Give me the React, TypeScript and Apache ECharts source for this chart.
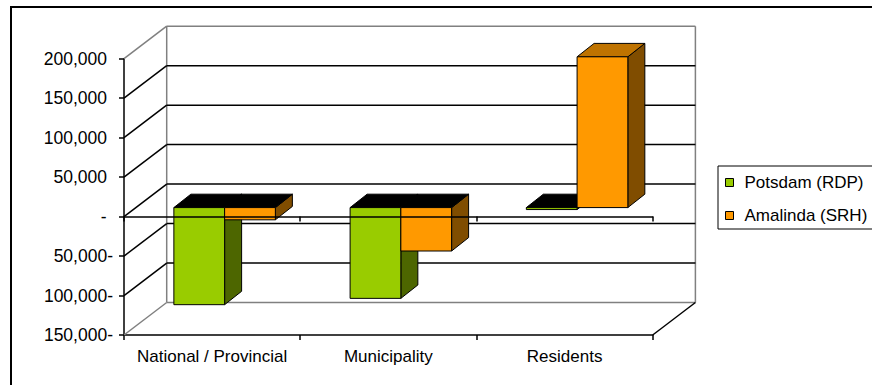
import React, { useEffect, useRef } from 'react';
import * as echarts from 'echarts';

// ---- data ----
const categories = ['National / Provincial', 'Municipality', 'Residents'];
const seriesNames = ['Potsdam (RDP)', 'Amalinda (SRH)'];
const potsdam = [-123000, -115000, -2500];
const amalinda = [-15500, -55000, 191000];
const yTicks = [-150000, -100000, -50000, 0, 50000, 100000, 150000, 200000];

// ---- style / geometry ----
const FONT = '"Liberation Sans", Arial, sans-serif';
const GRAY = '#808080';
const DX = 42.7;
const DY = -32.5;
const OFX = 12.5;
const OFY = -9;
const BDX = 17;
const BDY = -13.4;
const BAR_FRAC = 0.288;
const palette = [
  { front: '#99CC00', side: '#4D6600', top: '#739900' },
  { front: '#FF9900', side: '#804D00', top: '#BF7300' },
];

function withCommas(n: number): string {
  return String(Math.abs(n)).replace(/\B(?=(\d{3})+(?!\d))/g, ',');
}

function makeBarRender(s: number) {
  return (params: any, api: any) => {
    const i = api.value(0);
    const v = api.value(1);
    const p0 = api.coord([i, 0]);
    const p1 = api.coord([i, v]);
    const band = api.size([1, 0])[0];
    const bw = band * BAR_FRAC;
    const x0 = p0[0] - bw + s * bw + OFX;
    const ya = p0[1] + OFY;
    const yb = p1[1] + OFY;
    const yTop = Math.min(ya, yb);
    const yBot = Math.max(ya, yb);
    const c = palette[s];
    const st = { stroke: '#000', lineWidth: 1, lineJoin: 'round' };
    return {
      type: 'group',
      children: [
        {
          type: 'polygon',
          shape: { points: [[x0 + bw, yTop], [x0 + bw + BDX, yTop + BDY], [x0 + bw + BDX, yBot + BDY], [x0 + bw, yBot]] },
          style: { fill: c.side, ...st },
        },
        {
          type: 'polygon',
          shape: { points: [[x0, yTop], [x0 + BDX, yTop + BDY], [x0 + bw + BDX, yTop + BDY], [x0 + bw, yTop]] },
          style: { fill: v < 0 ? '#000' : c.top, ...st },
        },
        {
          type: 'rect',
          shape: { x: x0, y: yTop, width: bw, height: yBot - yTop },
          style: { fill: c.front, ...st },
        },
      ],
    };
  };
}

function wallRender(params: any, api: any) {
  const v = api.value(1);
  const cs = params.coordSys;
  const gx = cs.x;
  const gr = cs.x + cs.width;
  const gt = cs.y;
  const gb = cs.y + cs.height;
  const y = api.coord([0, v])[1];
  const edge = v === yTicks[0] || v === yTicks[yTicks.length - 1];
  const col = edge ? GRAY : '#000';
  const children: any[] = [
    { type: 'line', shape: { x1: gx + DX, y1: y + DY, x2: gr + DX, y2: y + DY }, style: { stroke: col, lineWidth: 1.5 } },
    { type: 'line', shape: { x1: gx, y1: y, x2: gx + DX, y2: y + DY }, style: { stroke: col, lineWidth: 1.5 } },
  ];
  if (params.dataIndex === 0) {
    children.push(
      { type: 'line', shape: { x1: gx + DX, y1: gt + DY, x2: gx + DX, y2: gb + DY }, style: { stroke: GRAY, lineWidth: 1.5 } },
      { type: 'line', shape: { x1: gr + DX, y1: gt + DY, x2: gr + DX, y2: gb + DY }, style: { stroke: GRAY, lineWidth: 1.5 } },
      { type: 'line', shape: { x1: gr, y1: gb, x2: gr + DX, y2: gb + DY }, style: { stroke: '#000', lineWidth: 1.5 } }
    );
  }
  return { type: 'group', children };
}

export default function App() {
  const ref = useRef<HTMLDivElement>(null);
  useEffect(() => {
    if (!ref.current) return;
    const chart = echarts.init(ref.current, undefined, { renderer: 'svg' });
    const labelBase = { fontFamily: FONT, fontSize: 17.5, color: '#000' };
    const axisLineStyle = { color: '#000', width: 1.5 };
    chart.setOption({
      animation: false,
      backgroundColor: '#fff',
      graphic: [
        {
          type: 'rect',
          shape: { x: 11, y: 7, width: 900, height: 420 },
          style: { fill: 'none', stroke: '#000', lineWidth: 2 },
          silent: true,
        },
      ],
      grid: { left: 124, top: 58.7, right: 219.3, bottom: 50, containLabel: false },
      legend: {
        data: seriesNames,
        orient: 'vertical',
        left: 718,
        top: 166,
        padding: [8, 8, 5, 7],
        itemGap: 16,
        itemWidth: 8,
        itemHeight: 8,
        icon: 'rect',
        borderColor: '#000',
        borderWidth: 1,
        itemStyle: { borderColor: '#000', borderWidth: 1 },
        textStyle: { fontFamily: FONT, fontSize: 17, color: '#000', padding: [0, 0, 0, 6] },
      },
      xAxis: [
        {
          type: 'category',
          data: categories,
          position: 'bottom',
          axisLine: { onZero: false, lineStyle: axisLineStyle },
          axisTick: { show: true, length: 5, lineStyle: axisLineStyle },
          axisLabel: { fontFamily: FONT, fontSize: 17, color: '#000', margin: 13, interval: 0, hideOverlap: false },
          splitLine: { show: false },
        },
        {
          type: 'category',
          data: categories,
          position: 'bottom',
          z: 10,
          axisLine: { onZero: true, lineStyle: axisLineStyle },
          axisTick: { show: true, length: 5, lineStyle: axisLineStyle },
          axisLabel: { show: false },
          splitLine: { show: false },
        },
      ],
      yAxis: {
        type: 'value',
        min: -150000,
        max: 200000,
        interval: 50000,
        axisLine: { show: true, onZero: false, lineStyle: axisLineStyle },
        axisTick: { show: true, length: 5, lineStyle: axisLineStyle },
        splitLine: { show: false },
        axisLabel: {
          margin: 11,
          formatter: (v: number) => {
            if (v > 0) return '{p|' + withCommas(v) + '}';
            if (v === 0) return '{z|-}';
            return '{n|' + withCommas(v) + '-}';
          },
          rich: {
            p: { ...labelBase, padding: [0, 6, 0, 0] },
            z: { ...labelBase, padding: [0, 6.5, 0, 0] },
            n: { ...labelBase },
          },
        },
      },
      series: [
        {
          name: 'walls',
          type: 'custom',
          xAxisIndex: 0,
          yAxisIndex: 0,
          z: 1,
          clip: false,
          silent: true,
          renderItem: wallRender,
          data: yTicks.map((v) => [0, v]),
          encode: { x: 0, y: 1 },
        },
        {
          name: seriesNames[0],
          type: 'custom',
          xAxisIndex: 0,
          yAxisIndex: 0,
          z: 2,
          clip: false,
          itemStyle: { color: palette[0].front },
          renderItem: makeBarRender(0),
          data: potsdam.map((v, i) => [i, v]),
          encode: { x: 0, y: 1 },
        },
        {
          name: seriesNames[1],
          type: 'custom',
          xAxisIndex: 0,
          yAxisIndex: 0,
          z: 3,
          clip: false,
          itemStyle: { color: palette[1].front },
          renderItem: makeBarRender(1),
          data: amalinda.map((v, i) => [i, v]),
          encode: { x: 0, y: 1 },
        },
      ],
    });
    return () => chart.dispose();
  }, []);
  return (
    <div
      ref={ref}
      style={{ position: 'absolute', left: 0, top: 0, width: 872, height: 385, background: '#fff' }}
    />
  );
}
